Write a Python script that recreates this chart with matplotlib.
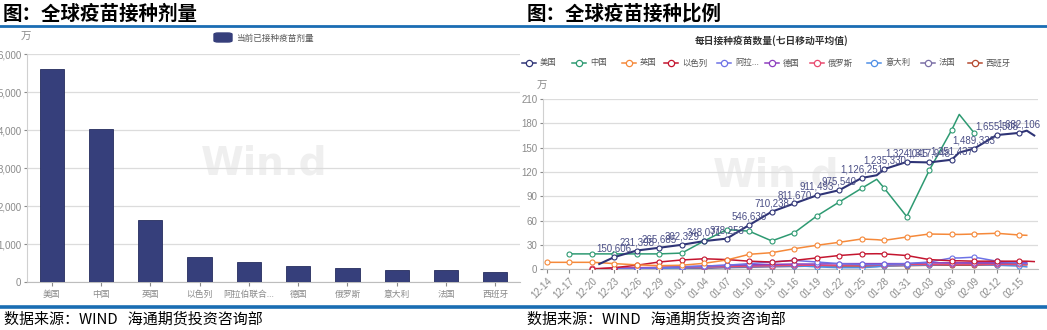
import numpy as np
import pandas as pd
import matplotlib
matplotlib.use('Agg')
import matplotlib.pyplot as plt
from matplotlib.lines import Line2D
from matplotlib.patches import FancyBboxPatch

plt.rcParams['font.family'] = ['Noto Sans CJK SC', 'DejaVu Sans']
num_font = ['Liberation Sans', 'DejaVu Sans']

nan = np.nan

# 左图：当前已接种疫苗剂量（万剂）
countries = ['美国', '中国', '英国', '以色列', '阿拉伯联合...', '德国', '俄罗斯', '意大利', '法国', '西班牙']
doses = [5605, 4035, 1632, 667, 518, 430, 377, 316, 308, 255]

# 右图：每日接种疫苗数量（七日移动平均值）
pts = ['12-14', '12-17', '12-20', '12-21', '12-23', '12-26', '12-29', '01-01', '01-04',
       '01-07', '01-10', '01-13', '01-16', '01-19', '01-22', '01-25', '01-27', '01-28',
       '01-31', '02-03', '02-06', '02-07', '02-09', '02-12', '02-15', '02-16', '02-17']
# 美国用原始数值（数据标签）
us_raw = [nan, nan, nan, 65000, 150606, 231398, 265685, 302329, 348071, 378253, 546636,
          710238, 811670, 911493, 975540, 1126251, 1160000, 1235330, 1324045, 1317948,
          1351437, 1440000, 1489333, 1655508, 1682106, 1710000, 1650000]
# 其余单位：万
china = [nan, 19, 19, 19, 19, 19, 19, 20, 35, 49, 47, 35, 45, 65.7, 83, 100, 111, 100,
         65, 122, 172, 191, 168, nan, nan, nan, nan]
uk = [8.6, 8.6, 8.6, 8.2, 7, 5.5, 4.5, 5, 7.4, 11.5, 18.5, 20.5, 25.4, 29.6, 33.3, 37.4,
      36.5, 35.7, 39.8, 43.5, 43.1, 43.0, 43.5, 44.4, 42.3, 41.9, nan]
israel = [nan, nan, 0.3, 0.8, 2, 5, 9, 11.5, 13, 12, 10, 9, 11, 14, 17, 19, 19.2, 19, 17,
          12, 10.5, 10.5, 10, 10, 10, 10, 9.5]
uae = [nan, nan, nan, nan, 0.5, 1, 2, 3, 4, 5, 7, 9, 11, 9, 7, 6, 6, 6, 7, 9, 14, 14, 15,
       10, 8, 7, nan]
germany = [nan, nan, nan, nan, 1, 1.5, 2, 3, 4, 5, 5.5, 6, 6.5, 6.5, 7, 7, 7, 7, 7, 8, 8,
           8, 8, 8, 8.5, 8.5, nan]
russia = [nan, nan, 1, 1, 1.5, 2, 2.5, 3, 3, 3.5, 4, 4.5, 5, 5, 5, 5.5, 5.5, 5.5, 6, 6, 6,
          6, 6, 6, 6, 6, nan]
italy = [nan, nan, nan, nan, nan, 0.5, 1, 2, 3, 3.5, 4, 4.5, 4.5, 3, 2, 2, 3, 4, 5, 5.5, 6,
         6, 6, 5, 4, 3, nan]
france = [nan, nan, nan, nan, nan, 0.1, 0.2, 0.5, 1, 2, 2.5, 3, 3.5, 4, 4.5, 5, 5, 5, 5.5,
          6, 6.5, 6.5, 7, 7, 7, 7, nan]
spain = [nan, nan, nan, nan, 0.5, 1, 2, 2.5, 3, 3.5, 4, 4.5, 4.5, 4.5, 4, 4, 4, 4, 4.5, 5,
         5, 5, 5, 5.5, 5.5, 5.5, nan]

series_names = ['美国', '中国', '英国', '以色列', '阿拉...', '德国', '俄罗斯', '意大利', '法国', '西班牙']
colors = ['#2f3476', '#2e9a72', '#f5893a', '#c4152f', '#6d72e6', '#8e3fbf',
          '#e84a6f', '#4f8fe6', '#7b6fa6', '#b54a30']

W, H = 1047, 330
fig = plt.figure(figsize=(W / 100, H / 100), dpi=100)
blue = '#1a6db3'
gray = '#8a8a8a'

def fx(px):
    return px / W

def fy(py):
    return 1 - py / H

# 标题与分隔线
fig.text(fx(3), fy(14), '图：全球疫苗接种剂量', fontsize=14, weight='bold', va='center')
fig.text(fx(527), fy(14), '图：全球疫苗接种比例', fontsize=14, weight='bold', va='center')
fig.add_artist(Line2D([0, 1], [fy(26), fy(26)], color=blue, lw=2))
fig.add_artist(Line2D([0, 1], [fy(307), fy(307)], color=blue, lw=2.6))
for x0 in (4, 527):
    fig.text(fx(x0), fy(319), '数据来源：WIND   海通期货投资咨询部', fontsize=10.8, va='center')

# ---- 左图 ----
ax1 = fig.add_axes([fx(27), fy(282), fx(520) - fx(27), fy(54) - fy(282)])
xs = np.arange(len(countries))
ax1.bar(xs, doses, width=0.49, color='#363f7b', edgecolor='#262d5e', linewidth=0.6, zorder=3)
ax1.set_xlim(-0.5, len(countries) - 0.5)
ax1.set_ylim(0, 6000)
ax1.set_yticks(range(0, 6001, 1000))
ax1.set_yticklabels([f'{v:,}' for v in range(0, 6001, 1000)], family=num_font)
ax1.set_xticks(xs)
ax1.set_xticklabels(countries)
ax1.grid(axis='y', color='#dcdcdc', lw=0.9, zorder=0)
ax1.tick_params(axis='y', labelsize=7, colors=gray, length=2, pad=2)
ax1.tick_params(axis='x', labelsize=6.3, colors=gray, length=3, pad=3)
for s in ('top', 'right'):
    ax1.spines[s].set_visible(False)
ax1.spines['left'].set_color('#d0d0d0')
ax1.spines['bottom'].set_color('#bdbdbd')
ax1.text(0.48, 0.52, 'Win.d', transform=ax1.transAxes, fontsize=28, weight='bold',
         color='#efefef', ha='center', va='center', zorder=1, family='DejaVu Sans')
fig.text(fx(26), fy(37), '万', fontsize=7.5, color=gray, ha='center', va='center')
fig.add_artist(FancyBboxPatch((fx(214), fy(42)), fx(18), fy(33) - fy(42),
                              boxstyle='round,pad=0,rounding_size=0.004',
                              color='#363f7b', transform=fig.transFigure))
fig.text(fx(236), fy(38), '当前已接种疫苗剂量', fontsize=6.2, color='#555555', va='center')

# ---- 右图 ----
base = pd.Timestamp('2020-12-14')

def to_day(s):
    m, d = s.split('-')
    y = 2020 if m == '12' else 2021
    return (pd.Timestamp(y, int(m), int(d)) - base).days

xd = np.array([to_day(s) for s in pts])
grid_pt = xd % 3 == 0

ax2 = fig.add_axes([fx(543), fy(269.3), fx(1038) - fx(543), fy(99) - fy(269.3)])
us = np.array(us_raw) / 1e4
data = [us, china, uk, israel, uae, germany, russia, italy, france, spain]
order = list(range(len(data)))[::-1]
for i in order:
    y = np.array(data[i], dtype=float)
    lw = 1.5 if i == 0 else 1.1
    ax2.plot(xd, y, color=colors[i], lw=lw, zorder=3 + (len(data) - i) * 0.1)
    m = grid_pt & ~np.isnan(y)
    ax2.plot(xd[m], y[m], ls='none', marker='o', ms=3.6, mfc='white',
             mec=colors[i], mew=0.8, zorder=4 + (len(data) - i) * 0.1)

for xi, v, g in zip(xd, us_raw, grid_pt):
    if g and not np.isnan(v) and xi >= 9:
        ax2.annotate(f'{v:,.0f}', (xi, v / 1e4), xytext=(0, 2.5), textcoords='offset points',
                     ha='center', va='bottom', fontsize=7, color='#4b4f86', zorder=6,
                     family=num_font)

ax2.set_xlim(-0.5, 65.5)
ax2.set_ylim(0, 210)
ax2.set_yticks(range(0, 211, 30))
ax2.set_yticklabels([str(v) for v in range(0, 211, 30)], family=num_font)
ticks = np.arange(0, 64, 3)
ax2.set_xticks(ticks)
ax2.set_xticklabels([(base + pd.Timedelta(days=int(t))).strftime('%m-%d') for t in ticks],
                    rotation=45, ha='right', va='top', rotation_mode='anchor', family=num_font)
ax2.grid(axis='y', color='#dcdcdc', lw=0.9, zorder=0)
ax2.tick_params(axis='y', labelsize=7, colors=gray, length=2, pad=2)
ax2.tick_params(axis='x', labelsize=7, colors=gray, length=3, pad=2)
for s in ('top', 'right'):
    ax2.spines[s].set_visible(False)
ax2.spines['left'].set_color('#d0d0d0')
ax2.spines['bottom'].set_color('#bdbdbd')
ax2.text(0.47, 0.55, 'Win.d', transform=ax2.transAxes, fontsize=28, weight='bold',
         color='#efefef', ha='center', va='center', zorder=1, family='DejaVu Sans')
fig.text(fx(542), fy(86), '万', fontsize=7.5, color=gray, ha='center', va='center')
fig.text(fx(772), fy(41), '每日接种疫苗数量(七日移动平均值)', fontsize=7, weight='bold',
         color='#333333', ha='center', va='center')

# 图例
leg_x = [529, 579, 629, 671, 724, 772, 817, 874, 928, 975]
for cx, name, c in zip(leg_x, series_names, colors):
    fig.add_artist(Line2D([fx(cx - 7), fx(cx + 7)], [fy(63), fy(63)], color=c, lw=1.1))
    fig.add_artist(Line2D([fx(cx)], [fy(63)], ls='none', marker='o', ms=4.5, mfc='white',
                          mec=c, mew=0.9))
    fig.text(fx(cx + 11), fy(63), name, fontsize=6, color='#555555', va='center')

fig.savefig('out.png', dpi=100)
